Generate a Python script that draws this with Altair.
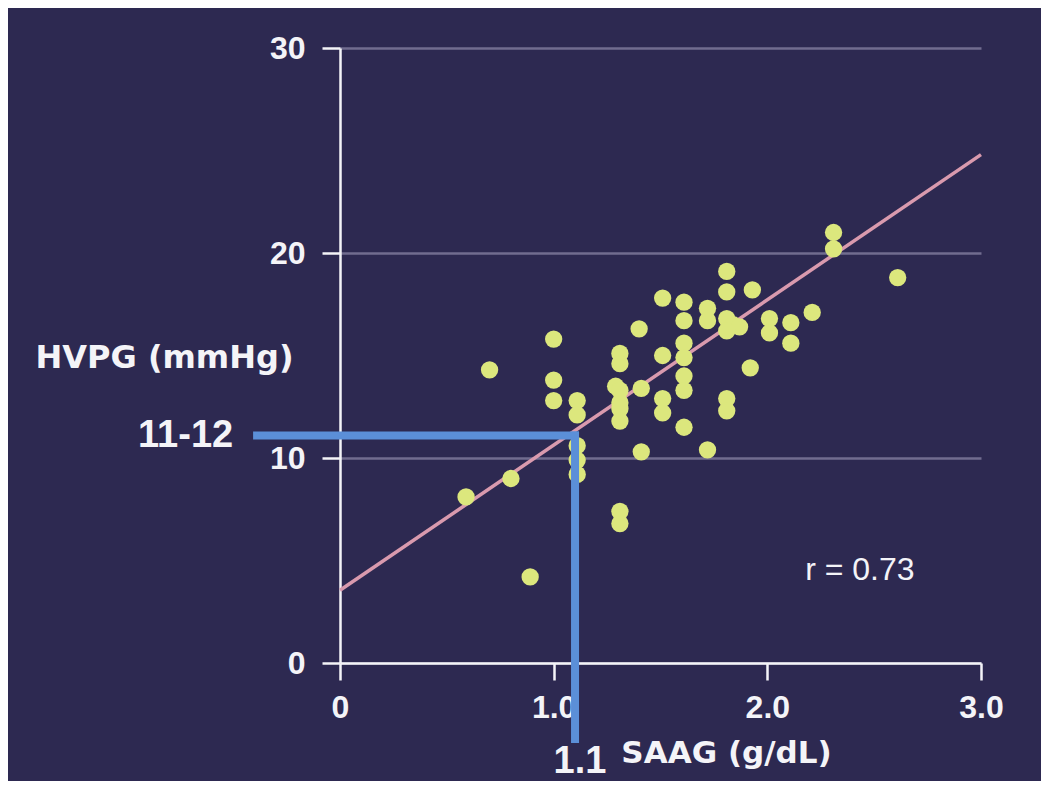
import altair as alt
import pandas as pd

# Scatter data: SAAG (g/dL) vs HVPG (mmHg)
saag = [0.59, 0.70, 0.80, 0.89, 1.00, 1.00, 1.00, 1.11, 1.11, 1.11, 1.11, 1.11,
        1.31, 1.31, 1.29, 1.31, 1.31, 1.31, 1.31, 1.31, 1.31,
        1.40, 1.41, 1.41, 1.51, 1.51, 1.51, 1.51,
        1.61, 1.61, 1.61, 1.61, 1.61, 1.61, 1.61,
        1.72, 1.72, 1.72, 1.81, 1.81, 1.81, 1.84, 1.87, 1.81, 1.81, 1.81,
        1.93, 1.92, 2.01, 2.01, 2.11, 2.11, 2.21, 2.31, 2.31, 2.61]
hvpg = [8.1, 14.3, 9.0, 4.2, 15.8, 13.8, 12.8, 12.8, 12.1, 10.6, 9.9, 9.2,
        15.1, 14.6, 13.5, 13.3, 12.7, 12.4, 11.8, 7.4, 6.8,
        16.3, 13.4, 10.3, 17.8, 15.0, 12.9, 12.2,
        17.6, 16.7, 15.6, 14.9, 14.0, 13.3, 11.5,
        17.3, 16.7, 10.4, 19.1, 18.1, 16.8, 16.5, 16.4, 16.2, 12.9, 12.3,
        18.2, 14.4, 16.8, 16.1, 16.6, 15.6, 17.1, 21.0, 20.2, 18.8]

# Regression line end points
fit_x = [0.0, 3.0]
fit_y = [3.55, 24.8]

# Cut-off guide lines
cut_saag = 1.1
cut_hvpg = 11.1

x_ticks = [0, 1, 2, 3]
y_ticks = [0, 10, 20, 30]

BG = "#2d2951"
WHITE = "#f4f4f8"
NUM_FONT = "Liberation Sans"
TITLE_FONT = "DejaVu Sans"

pts = pd.DataFrame({"saag": saag, "hvpg": hvpg})
fit = pd.DataFrame({"saag": fit_x, "hvpg": fit_y})
one = pd.DataFrame({"k": [0]})

xscale = alt.Scale(domain=[0, 3], nice=False, zero=False)
yscale = alt.Scale(domain=[0, 30], nice=False, zero=False)

x_axis = alt.Axis(
    values=x_ticks,
    labelExpr="datum.value == 0 ? '0' : format(datum.value, '.1f')",
    grid=False, tickSize=17, tickWidth=2.5, tickColor=WHITE,
    domainColor=WHITE, domainWidth=2.5,
    labelColor=WHITE, labelFont=NUM_FONT, labelFontSize=32, labelFontWeight="bold",
    labelPadding=12, labelFlush=False, labelOverlap=False,
    title="SAAG (g/dL)", titleColor=WHITE, titleFont=TITLE_FONT, titleFontSize=31,
    titleFontWeight="bold", titleX=386, titleY=90, titleAlign="center",
    titleBaseline="middle", titleAnchor="start",
)
y_axis = alt.Axis(
    values=y_ticks, format="d",
    grid=True, gridColor="#716c8f", gridWidth=2.5,
    tickSize=18, tickWidth=2.5, tickColor=WHITE,
    domainColor=WHITE, domainWidth=2.5,
    labelColor=WHITE, labelFont=NUM_FONT, labelFontSize=32, labelFontWeight="bold",
    labelPadding=17, labelFlush=False, labelOverlap=False,
    title="HVPG (mmHg)", titleColor=WHITE, titleFont=TITLE_FONT, titleFontSize=32,
    titleFontWeight="bold", titleAngle=0, titleX=-47, titleY=309,
    titleAlign="right", titleBaseline="middle", titleAnchor="start",
)

line = alt.Chart(fit).mark_line(color="#d99aae", strokeWidth=3.5).encode(
    x=alt.X("saag:Q", scale=xscale, axis=x_axis),
    y=alt.Y("hvpg:Q", scale=yscale, axis=y_axis),
)

points = alt.Chart(pts).mark_circle(size=300, color="#dce77d", opacity=1).encode(
    x=alt.X("saag:Q", scale=xscale),
    y=alt.Y("hvpg:Q", scale=yscale),
)

BLUE = "#5b8fd8"
hrule = alt.Chart(one).mark_rule(color=BLUE, strokeWidth=8, strokeCap="square", clip=False).encode(
    x=alt.datum(-0.388), x2=alt.datum(cut_saag), y=alt.datum(cut_hvpg)
)
vrule = alt.Chart(one).mark_rule(color=BLUE, strokeWidth=8, strokeCap="square", clip=False).encode(
    x=alt.datum(cut_saag), y=alt.datum(cut_hvpg), y2=alt.datum(-3.71)
)

label_1112 = alt.Chart(one).mark_text(
    text="11-12", color=WHITE, font=NUM_FONT, fontSize=38, fontWeight="bold",
    align="right", baseline="middle", clip=False,
).encode(x=alt.datum(-0.50), y=alt.datum(11.05))

label_11 = alt.Chart(one).mark_text(
    text="1.1", color=WHITE, font=NUM_FONT, fontSize=38, fontWeight="bold",
    align="center", baseline="middle", clip=False,
).encode(x=alt.datum(1.123), y=alt.datum(-4.85))

label_r = alt.Chart(one).mark_text(
    text="r = 0.73", color=WHITE, font=NUM_FONT, fontSize=32, fontWeight="normal",
    align="center", baseline="middle",
).encode(x=alt.datum(2.433), y=alt.datum(4.54))

chart = alt.layer(
    line, points, hrule, vrule, label_1112, label_11, label_r
).properties(
    width=641, height=615,
    autosize=alt.AutoSizeParams(type="none"),
    padding={"left": 332, "top": 40, "right": 60, "bottom": 118},
    background=BG,
).configure_view(stroke=None)

chart.save("out.html", embed_options={"renderer": "svg", "actions": False})
